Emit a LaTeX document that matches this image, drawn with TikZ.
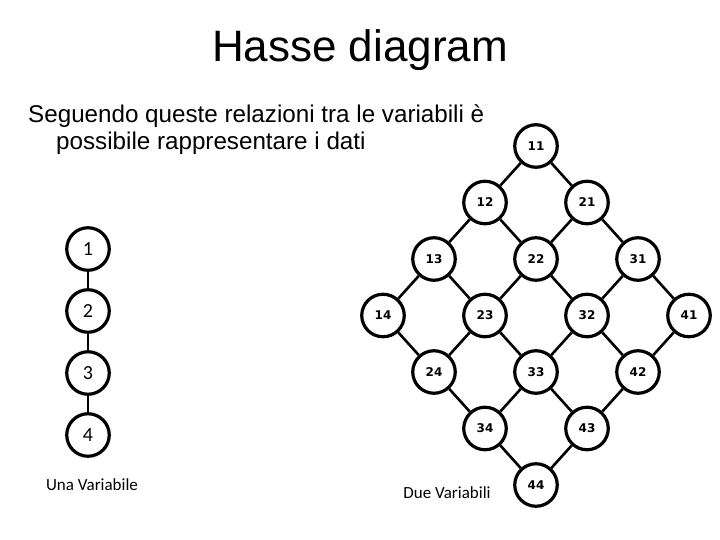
\documentclass[tikz,border=0pt]{standalone}
\usepackage{fontspec}
\setmainfont{Liberation Sans}
\newfontfamily\calfont{Carlito}
\newfontfamily\latfont{DejaVu Sans}[BoldFont={DejaVu Sans Bold}]
\begin{document}
\begin{tikzpicture}[x=1pt,y=-1pt,
  vtx/.style={circle,draw=black,line width=3.2pt,minimum size=42.5pt,inner sep=0pt},
  chainvtx/.style={vtx,font=\calfont\fontsize{20}{24}\selectfont},
  latvtx/.style={vtx,font=\latfont\bfseries\fontsize{12}{14}\selectfont},
  edge/.style={line width=2.6pt},
  txt/.style={inner sep=0pt}]
\useasboundingbox[fill=white] (0,0) rectangle (720,540);
% title and text
\node[txt,anchor=base,font=\fontsize{44}{50}\selectfont] (title) at (360,62) {Hasse diagram};
\node[txt,anchor=base west,font=\fontsize{24.2}{27}\selectfont] (l1) at (28,123) {Seguendo queste relazioni tra le variabili è};
\node[txt,anchor=base west,font=\fontsize{24.2}{27}\selectfont] (l2) at (56,150) {possibile rappresentare i dati};
% chain
\foreach \k in {1,...,4} {
  \node[chainvtx] (c\k) at (88,{249+62*(\k-1)}) {\k};
}
\foreach \a/\b in {1/2,2/3,3/4} \draw[edge] (c\a) -- (c\b);
\node[txt,anchor=base,font=\calfont\fontsize{17}{20}\selectfont] (una) at (92,490) {Una Variabile};
% lattice
\foreach \i in {1,...,4} {
  \foreach \j in {1,...,4} {
    \node[latvtx] (n\i\j) at ({536+51*(\i-\j)},{146+56.5*(\i+\j-2)}) {\i\j};
  }
}
\foreach \i in {1,...,4} {
  \foreach \j [evaluate=\j as \jn using int(\j+1)] in {1,2,3} {
    \draw[edge] (n\i\j) -- (n\i\jn);
    \draw[edge] (n\j\i) -- (n\jn\i);
  }
}
\node[txt,anchor=base,font=\calfont\fontsize{17}{20}\selectfont] (due) at (447,498) {Due Variabili};
\end{tikzpicture}
\end{document}
